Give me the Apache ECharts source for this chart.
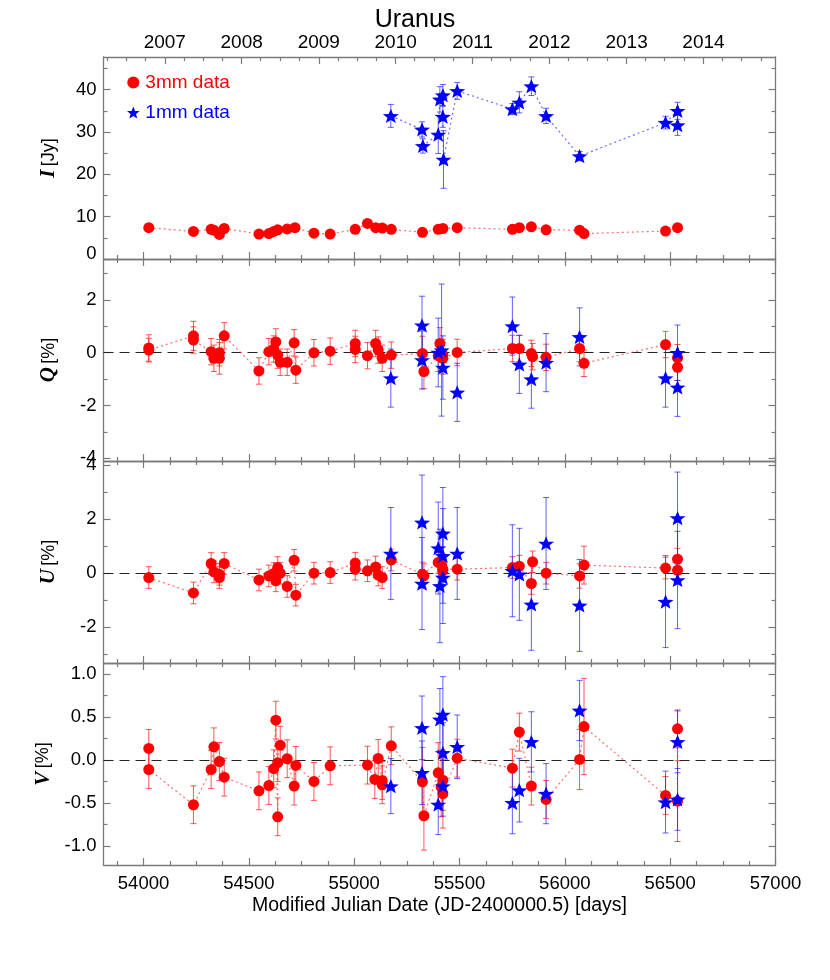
<!DOCTYPE html>
<html><head><meta charset="utf-8">
<script src="https://cdn.jsdelivr.net/npm/echarts@6/dist/echarts.min.js"></script>
<style>html,body{margin:0;padding:0;background:#fff}#c{width:830px;height:980px}</style>
</head><body><div id="c"></div>
<script>
// ---------------- DATA ----------------
const mjdTicks = [54000, 54500, 55000, 55500, 56000, 56500, 57000];
const yearLabels = ['2007', '2008', '2009', '2010', '2011', '2012', '2013', '2014'];
const yearStarts = [54101, 54466, 54832, 55197, 55562, 55927, 56293, 56658];

const iTicks = [0, 10, 20, 30, 40];
const qTicks = [-4, -2, 0, 2];
const uTicks = [-2, 0, 2, 4];
const vTicks = [-1, -0.5, 0, 0.5, 1];

// [MJD, value, error]
const iRed = [[54025,7.4,0.4],[54237,6.5,0.4],[54321,7.0,0.4],[54334,6.8,0.4],[54360,5.8,0.4],[54383,7.2,0.4],
  [54548,5.9,0.4],[54595,6.0,0.4],[54618,6.5,0.4],[54637,6.9,0.4],[54682,7.1,0.4],[54719,7.4,0.4],
  [54809,6.1,0.4],[54886,5.9,0.4],[55005,7.0,0.4],[55063,8.4,0.4],[55102,7.4,0.4],[55133,7.3,0.4],
  [55176,7.0,0.4],[55324,6.3,0.4],[55399,7.0,0.4],[55421,7.2,0.4],[55489,7.4,0.4],[55751,7.0,0.4],
  [55784,7.4,0.4],[55841,7.6,0.4],[55911,6.9,0.4],[56070,6.8,0.4],[56091,6.0,0.4],[56478,6.6,0.4],[56535,7.4,0.4]];
const iBlue = [[55174,33.8,2.7],[55322,30.6,1.8],[55326,26.7,1.7],[55399,29.4,4.5],[55407,37.7,3.0],
  [55421,38.7,2.5],[55421,33.6,2.5],[55424,23.5,6.8],[55489,39.7,2.0],[55751,35.4,1.3],[55784,37.0,2.5],
  [55841,40.8,2.2],[55911,33.8,1.8],[56070,24.3,1.1],[56478,32.2,1.5],[56535,35.0,2.0],[56535,31.6,2.4]];

const qRed = [[54025,0.18,0.5],[54025,0.10,0.45],[54237,0.64,0.55],[54237,0.48,0.5],[54321,0.04,0.5],
  [54334,-0.21,0.5],[54360,0.0,0.5],[54360,-0.21,0.6],[54383,0.64,0.5],[54548,-0.69,0.5],[54595,0.04,0.5],
  [54618,0.14,0.5],[54628,0.41,0.5],[54637,-0.09,0.5],[54649,-0.36,0.5],[54682,-0.36,0.5],[54715,0.375,0.5],
  [54723,-0.66,0.5],[54809,0.0,0.5],[54886,0.06,0.5],[55005,0.35,0.5],[55005,0.125,0.5],[55063,-0.11,0.5],
  [55102,0.35,0.5],[55114,0.1,0.5],[55133,-0.21,0.5],[55176,-0.09,0.5],[55324,-0.025,0.65],[55331,-0.71,0.65],
  [55399,-0.11,0.6],[55407,0.35,0.6],[55421,-0.09,0.6],[55421,-0.21,0.6],[55489,0.01,0.5],[55751,0.16,0.5],
  [55784,0.16,0.5],[55841,-0.025,0.5],[55847,-0.15,0.5],[55911,-0.175,0.5],[56070,0.16,0.5],[56091,-0.4,0.5],
  [56478,0.31,0.5],[56535,-0.19,0.5],[56535,-0.55,0.5]];
const qBlue = [[55174,-0.96,1.1],[55322,1.04,1.1],[55322,-0.275,1.1],[55399,0.01,1.3],[55415,0.1,2.5],
  [55421,-0.56,1.2],[55489,-1.5,1.1],[55751,1.01,1.1],[55784,-0.44,1.1],[55841,-1.0,1.1],[55911,-0.375,1.1],
  [56070,0.6,1.1],[56478,-0.96,1.1],[56535,0.0,1.05],[56535,-1.31,1.1]];

const uRed = [[54025,-0.16,0.4],[54237,-0.73,0.4],[54321,0.36,0.4],[54334,0.05,0.4],[54360,-0.04,0.4],
  [54360,-0.16,0.4],[54383,0.36,0.4],[54548,-0.25,0.4],[54595,-0.1,0.4],[54618,-0.01,0.4],[54628,-0.28,0.4],
  [54637,0.21,0.4],[54649,0.0,0.4],[54682,-0.49,0.4],[54715,0.48,0.4],[54723,-0.81,0.4],[54809,0.0,0.4],
  [54886,0.025,0.4],[55005,0.37,0.4],[55005,0.15,0.4],[55063,0.09,0.4],[55102,0.23,0.4],[55114,-0.07,0.4],
  [55133,-0.16,0.4],[55176,0.49,0.4],[55324,-0.04,0.45],[55331,-0.1,0.45],[55399,0.4,0.4],[55415,0.31,0.4],
  [55421,0.15,0.4],[55421,0.09,0.4],[55489,0.15,0.4],[55751,0.21,0.4],[55784,0.26,0.4],[55841,-0.38,0.4],
  [55847,0.42,0.4],[55911,0.0,0.4],[56070,-0.1,0.45],[56091,0.3,0.7],[56478,0.19,0.4],[56535,0.52,0.4],[56535,0.11,0.4]];
const uBlue = [[55174,0.73,1.7],[55322,1.88,1.75],[55322,-0.38,1.7],[55399,0.93,1.7],[55407,-0.47,2.1],
  [55421,1.47,1.7],[55421,0.64,1.75],[55421,-0.16,1.7],[55489,0.73,1.7],[55751,0.09,1.7],[55784,-0.04,1.7],
  [55841,-1.15,1.7],[55911,1.1,1.7],[56070,-1.19,1.7],[56478,-1.05,1.7],[56535,2.04,1.7],[56535,-0.25,1.8]];

const vRed = [[54025,0.136,0.22],[54025,-0.109,0.22],[54237,-0.519,0.22],[54321,-0.109,0.22],[54334,0.155,0.22],
  [54360,-0.016,0.22],[54383,-0.198,0.22],[54548,-0.357,0.22],[54595,-0.295,0.22],[54618,-0.10,0.22],
  [54628,0.465,0.22],[54637,-0.659,0.22],[54637,-0.03,0.22],[54649,0.174,0.22],[54682,0.016,0.22],
  [54715,-0.302,0.22],[54723,-0.062,0.22],[54809,-0.248,0.22],[54886,-0.066,0.22],[55063,-0.058,0.22],
  [55098,-0.225,0.22],[55114,0.019,0.22],[55133,-0.236,0.22],[55133,-0.287,0.22],[55176,0.167,0.22],
  [55324,-0.252,0.4],[55331,-0.647,0.4],[55399,-0.147,0.35],[55413,-0.31,0.35],[55421,-0.233,0.35],
  [55421,-0.39,0.4],[55489,0.023,0.22],[55751,-0.093,0.22],[55784,0.326,0.22],[55841,-0.302,0.22],
  [55911,-0.457,0.22],[56070,0.008,0.35],[56091,0.391,0.56],[56478,-0.411,0.22],[56535,-0.477,0.47],[56535,0.364,0.22]];
const vBlue = [[55174,-0.302,0.32],[55322,0.376,0.37],[55322,-0.147,0.37],[55399,-0.516,0.35],[55407,0.473,0.36],
  [55421,0.531,0.44],[55421,0.085,0.35],[55421,-0.302,0.35],[55489,0.155,0.37],[55751,-0.496,0.36],
  [55784,-0.349,0.37],[55841,0.213,0.35],[55911,-0.39,0.35],[56070,0.578,0.35],[56478,-0.488,0.36],
  [56535,0.213,0.36],[56535,-0.457,0.36]];

// ---------------- LAYOUT / STYLE ----------------
const XMIN = 53810, XMAX = 57000;
const FONT = 'Liberation Sans';
const AX = '#7a7a7a';
const LBL = 18.5;
const STAR = 'path://M0,-10L2.6,-3.3L9.51,-3.09L4.1,1.3L5.88,8.09L0,4.3L-5.88,8.09L-4.1,1.3L-9.51,-3.09L-2.6,-3.3Z';
const panels = [
  {top: 57,  min: 0,     max: 47.7, ticks: iTicks, minorStep: 5,    name: '{v|I} {u|[Jy]}', red: iRed, blue: iBlue, fmt: v => v === 0 ? '{z|0}' : String(v), zero: false, blueLine: true},
  {top: 259, min: -4.1,  max: 3.55, ticks: qTicks, minorStep: 1,    name: '{v|Q} {u|[%]}',  red: qRed, blue: qBlue, fmt: v => String(v), zero: true, blueLine: false},
  {top: 461, min: -3.32, max: 4.15, ticks: uTicks, minorStep: 1,    name: '{v|U} {u|[%]}',  red: uRed, blue: uBlue, fmt: v => String(v), zero: true, blueLine: false},
  {top: 663, min: -1.22, max: 1.13, ticks: vTicks, minorStep: 0.25, name: '{v|V} {u|[%]}',  red: vRed, blue: vBlue, fmt: v => v.toFixed(1), zero: true, blueLine: false}
];

const mjdMinor = [];
for (let v = 53875; v < XMAX; v += 125) if (v % 500) mjdMinor.push(v);
const quarterTicks = [];
[53736].concat(yearStarts).forEach(s => [90, 181, 273].forEach(d => { const t = s + d; if (t > XMIN && t < XMAX) quarterTicks.push(t); }));

function minorOf(p) {
  const out = [];
  const st = p.minorStep;
  for (let v = Math.ceil(p.min / st) * st; v <= p.max + 1e-9; v += st) {
    const r = Math.round(v * 1000) / 1000;
    if (!p.ticks.some(t => Math.abs(t - r) < 1e-6)) out.push(r);
  }
  return out;
}

function xAxis(g, pos, vals, len, label, fmt, extra, fs, margin) {
  return Object.assign({
    type: 'value', gridIndex: g, position: pos, min: XMIN, max: XMAX,
    axisLine: {show: true, onZero: false, lineStyle: {color: AX, width: 1.3}},
    axisTick: {show: true, inside: true, length: len, customValues: vals, lineStyle: {color: AX, width: 1.2}},
    axisLabel: {show: label, customValues: vals, formatter: fmt, fontSize: fs || LBL, fontFamily: FONT, color: '#000', margin: margin || 8},
    splitLine: {show: false}
  }, extra || {});
}
function yAxis(g, p, pos, vals, len, label, extra) {
  return Object.assign({
    type: 'value', gridIndex: g, position: pos, min: p.min, max: p.max,
    axisLine: {show: true, onZero: false, lineStyle: {color: AX, width: 1.3}},
    axisTick: {show: true, inside: true, length: len, customValues: vals, lineStyle: {color: AX, width: 1.2}},
    axisLabel: {show: label, customValues: vals, formatter: p.fmt, fontSize: LBL, fontFamily: FONT, color: '#000', margin: 7,
      rich: {z: {fontSize: LBL, fontFamily: FONT, color: '#000', padding: [0, 0, 10, 0]}}},
    splitLine: {show: false}
  }, extra || {});
}

function errRender(color) {
  return function (params, api) {
    const x = api.value(0), y = api.value(1), e = api.value(2);
    const a = api.coord([x, y + e]), b = api.coord([x, y - e]);
    const w = 3;
    const style = {stroke: color, lineWidth: 1};
    return {type: 'group', children: [
      {type: 'line', shape: {x1: a[0], y1: a[1], x2: b[0], y2: b[1]}, style: style},
      {type: 'line', shape: {x1: a[0] - w, y1: a[1], x2: a[0] + w, y2: a[1]}, style: style},
      {type: 'line', shape: {x1: b[0] - w, y1: b[1], x2: b[0] + w, y2: b[1]}, style: style}
    ]};
  };
}
const byDate = arr => arr.slice().sort((p, q) => p[0] - q[0]);

const grids = [], xAxes = [], yAxes = [], series = [];
panels.forEach((p, g) => {
  grids.push({left: 103.5, width: 672, top: p.top, height: 202, containLabel: false, outerBoundsMode: 'none'});
  const last = g === panels.length - 1;
  xAxes.push(xAxis(g, 'bottom', mjdTicks, 7, last, v => String(v), last ? {
    name: 'Modified Julian Date (JD-2400000.5) [days]', nameLocation: 'middle', nameGap: 31,
    nameTextStyle: {fontSize: 19.5, fontFamily: FONT, color: '#000'}} : {}, LBL, 9));
  xAxes.push(xAxis(g, 'bottom', mjdMinor, 4, false, null, {axisLine: {show: false, onZero: false}}));
  if (g === 0) {
    xAxes.push(xAxis(g, 'top', yearStarts, 7, true, v => yearLabels[yearStarts.indexOf(v)], null, 19, 5));
    xAxes.push(xAxis(g, 'top', quarterTicks, 4, false, null, {axisLine: {show: false, onZero: false}}));
  } else {
    xAxes.push(xAxis(g, 'top', mjdTicks, 7, false, null));
    xAxes.push(xAxis(g, 'top', mjdMinor, 4, false, null, {axisLine: {show: false, onZero: false}}));
  }
  const mn = minorOf(p);
  yAxes.push(yAxis(g, p, 'left', p.ticks, 7, true, {
    name: p.name, nameLocation: 'middle', nameRotate: 90, nameGap: 44,
    nameTextStyle: {rich: {
      v: {fontFamily: 'Liberation Serif', fontStyle: 'italic', fontWeight: 'bold', fontSize: 21, color: '#000'},
      u: {fontFamily: FONT, fontSize: 18, color: '#000'}}}}));
  yAxes.push(yAxis(g, p, 'left', mn, 4, false, {axisLine: {show: false, onZero: false}}));
  yAxes.push(yAxis(g, p, 'right', p.ticks, 7, false));
  yAxes.push(yAxis(g, p, 'right', mn, 4, false, {axisLine: {show: false, onZero: false}}));

  const xi = g * 4, yi = g * 4;
  series.push({type: 'custom', xAxisIndex: xi, yAxisIndex: yi, renderItem: errRender('rgba(255,30,30,0.75)'),
    data: p.red, encode: {x: 0, y: 1}, z: 2, clip: true, silent: true});
  series.push({type: 'custom', xAxisIndex: xi, yAxisIndex: yi, renderItem: errRender('rgba(30,30,255,0.7)'),
    data: p.blue, encode: {x: 0, y: 1}, z: 2, clip: true, silent: true});
  const redLine = {type: 'line', xAxisIndex: xi, yAxisIndex: yi, data: byDate(p.red).map(d => [d[0], d[1]]),
    showSymbol: false, symbol: 'none', z: 2, silent: true,
    lineStyle: {color: 'rgba(255,60,60,0.75)', width: 1.2, type: [2, 3]}};
  if (p.zero) {
    redLine.markLine = {silent: true, symbol: ['none', 'none'], z: 1, label: {show: false},
      lineStyle: {color: '#222', width: 1, type: [10, 6]}, data: [{yAxis: 0}], animation: false};
  }
  series.push(redLine);
  if (p.blueLine) {
    series.push({type: 'line', xAxisIndex: xi, yAxisIndex: yi, data: byDate(p.blue).map(d => [d[0], d[1]]),
      showSymbol: false, symbol: 'none', z: 2, silent: true,
      lineStyle: {color: 'rgba(60,60,255,0.75)', width: 1.2, type: [2, 3]}});
  }
  series.push({type: 'scatter', name: '3mm data', xAxisIndex: xi, yAxisIndex: yi, data: p.red.map(d => [d[0], d[1]]),
    symbol: 'circle', symbolSize: 11, itemStyle: {color: '#ff0000', opacity: 1}, z: 3});
  series.push({type: 'scatter', name: '1mm data', xAxisIndex: xi, yAxisIndex: yi, data: p.blue.map(d => [d[0], d[1]]),
    symbol: STAR, symbolSize: [16, 15], symbolKeepAspect: true, itemStyle: {color: '#0000ff', opacity: 1}, z: 4});
});

const chart = echarts.init(document.getElementById('c'), null, {renderer: 'canvas'});
chart.setOption({
  animation: false,
  backgroundColor: '#fff',
  textStyle: {fontFamily: FONT},
  title: {text: 'Uranus', left: 'center', top: 3, textStyle: {fontSize: 25, fontWeight: 'normal', fontFamily: FONT, color: '#000'}},
  legend: {left: 127, top: 73, padding: 0, orient: 'vertical', itemWidth: 14, itemHeight: 12, itemGap: 11, selectedMode: false,
    textStyle: {fontSize: 19, fontFamily: FONT},
    data: [{name: '3mm data', icon: 'circle', textStyle: {color: '#ff0000'}},
           {name: '1mm data', icon: STAR, textStyle: {color: '#0000ff'}}]},
  grid: grids, xAxis: xAxes, yAxis: yAxes, series: series
});
</script></body></html>
